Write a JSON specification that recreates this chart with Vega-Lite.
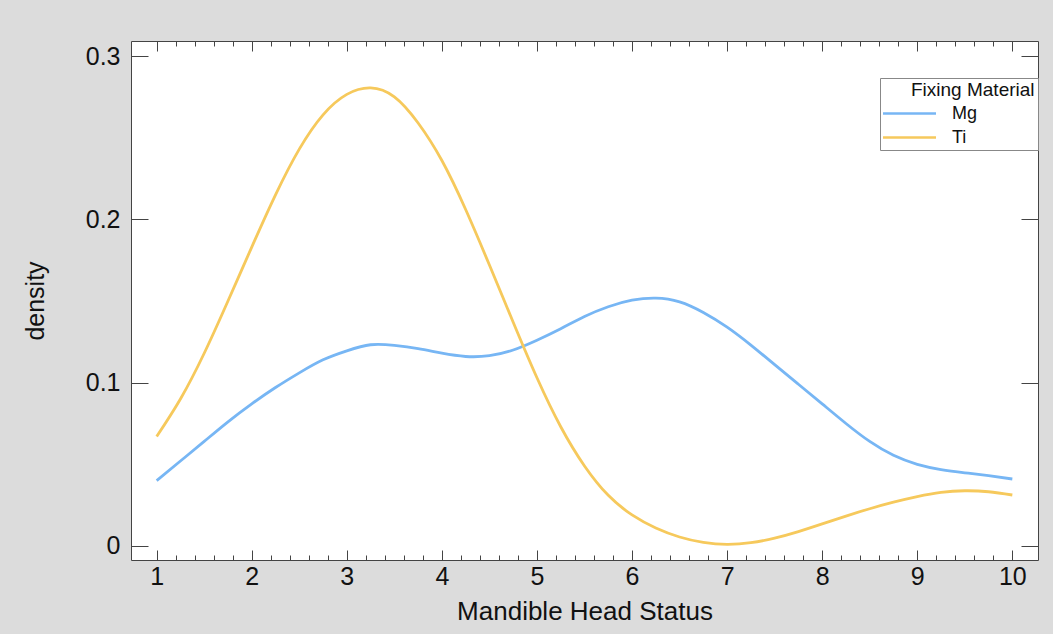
{
  "$schema": "https://vega.github.io/schema/vega-lite/v6.json",
  "width": 907,
  "height": 519,
  "autosize": {"type": "none"},
  "padding": {"left": 131, "top": 41, "right": 15, "bottom": 74},
  "background": "#dcdcdc",
  "config": {
    "font": "Liberation Sans",
    "view": {"stroke": "#444", "strokeWidth": 1, "fill": "white"},
    "axis": {"grid": false, "domain": false, "tickColor": "#444", "tickWidth": 1, "labelColor": "#111", "titleColor": "#111", "titleFontWeight": "normal", "labelFont": "Liberation Sans", "titleFont": "Liberation Sans"}
  },
  "data": {"values": [
    {"x": 1, "density": 0.040, "material": "Mg"},
    {"x": 1.25, "density": 0.052, "material": "Mg"},
    {"x": 1.5, "density": 0.064, "material": "Mg"},
    {"x": 1.75, "density": 0.076, "material": "Mg"},
    {"x": 2, "density": 0.087, "material": "Mg"},
    {"x": 2.25, "density": 0.097, "material": "Mg"},
    {"x": 2.5, "density": 0.106, "material": "Mg"},
    {"x": 2.75, "density": 0.114, "material": "Mg"},
    {"x": 3, "density": 0.1195, "material": "Mg"},
    {"x": 3.25, "density": 0.1232, "material": "Mg"},
    {"x": 3.5, "density": 0.1228, "material": "Mg"},
    {"x": 3.75, "density": 0.1208, "material": "Mg"},
    {"x": 4, "density": 0.1180, "material": "Mg"},
    {"x": 4.25, "density": 0.1160, "material": "Mg"},
    {"x": 4.5, "density": 0.1165, "material": "Mg"},
    {"x": 4.75, "density": 0.1200, "material": "Mg"},
    {"x": 5, "density": 0.126, "material": "Mg"},
    {"x": 5.25, "density": 0.133, "material": "Mg"},
    {"x": 5.5, "density": 0.1405, "material": "Mg"},
    {"x": 5.75, "density": 0.1465, "material": "Mg"},
    {"x": 6, "density": 0.1505, "material": "Mg"},
    {"x": 6.25, "density": 0.1518, "material": "Mg"},
    {"x": 6.5, "density": 0.1495, "material": "Mg"},
    {"x": 6.75, "density": 0.143, "material": "Mg"},
    {"x": 7, "density": 0.134, "material": "Mg"},
    {"x": 7.25, "density": 0.123, "material": "Mg"},
    {"x": 7.5, "density": 0.111, "material": "Mg"},
    {"x": 7.75, "density": 0.099, "material": "Mg"},
    {"x": 8, "density": 0.087, "material": "Mg"},
    {"x": 8.25, "density": 0.075, "material": "Mg"},
    {"x": 8.5, "density": 0.064, "material": "Mg"},
    {"x": 8.75, "density": 0.0555, "material": "Mg"},
    {"x": 9, "density": 0.0500, "material": "Mg"},
    {"x": 9.25, "density": 0.0468, "material": "Mg"},
    {"x": 9.5, "density": 0.0448, "material": "Mg"},
    {"x": 9.75, "density": 0.0430, "material": "Mg"},
    {"x": 10, "density": 0.041, "material": "Mg"},
    {"x": 1, "density": 0.067, "material": "Ti"},
    {"x": 1.25, "density": 0.090, "material": "Ti"},
    {"x": 1.5, "density": 0.118, "material": "Ti"},
    {"x": 1.75, "density": 0.150, "material": "Ti"},
    {"x": 2, "density": 0.183, "material": "Ti"},
    {"x": 2.25, "density": 0.215, "material": "Ti"},
    {"x": 2.5, "density": 0.243, "material": "Ti"},
    {"x": 2.75, "density": 0.264, "material": "Ti"},
    {"x": 3, "density": 0.2765, "material": "Ti"},
    {"x": 3.25, "density": 0.2805, "material": "Ti"},
    {"x": 3.5, "density": 0.2750, "material": "Ti"},
    {"x": 3.75, "density": 0.259, "material": "Ti"},
    {"x": 4, "density": 0.236, "material": "Ti"},
    {"x": 4.25, "density": 0.206, "material": "Ti"},
    {"x": 4.5, "density": 0.172, "material": "Ti"},
    {"x": 4.75, "density": 0.137, "material": "Ti"},
    {"x": 5, "density": 0.103, "material": "Ti"},
    {"x": 5.25, "density": 0.073, "material": "Ti"},
    {"x": 5.5, "density": 0.049, "material": "Ti"},
    {"x": 5.75, "density": 0.031, "material": "Ti"},
    {"x": 6, "density": 0.019, "material": "Ti"},
    {"x": 6.25, "density": 0.011, "material": "Ti"},
    {"x": 6.5, "density": 0.0055, "material": "Ti"},
    {"x": 6.75, "density": 0.0022, "material": "Ti"},
    {"x": 7, "density": 0.0010, "material": "Ti"},
    {"x": 7.25, "density": 0.0020, "material": "Ti"},
    {"x": 7.5, "density": 0.0048, "material": "Ti"},
    {"x": 7.75, "density": 0.0088, "material": "Ti"},
    {"x": 8, "density": 0.0135, "material": "Ti"},
    {"x": 8.25, "density": 0.0183, "material": "Ti"},
    {"x": 8.5, "density": 0.0228, "material": "Ti"},
    {"x": 8.75, "density": 0.0268, "material": "Ti"},
    {"x": 9, "density": 0.0302, "material": "Ti"},
    {"x": 9.25, "density": 0.0328, "material": "Ti"},
    {"x": 9.5, "density": 0.0338, "material": "Ti"},
    {"x": 9.75, "density": 0.0332, "material": "Ti"},
    {"x": 10, "density": 0.0312, "material": "Ti"}
  ]},
  "layer": [
    {
      "mark": {"type": "line", "interpolate": "natural", "strokeWidth": 2.8},
      "encoding": {
        "x": {
          "field": "x", "type": "quantitative",
          "scale": {"domain": [0.73, 10.27], "nice": false, "zero": false},
          "axis": {
            "orient": "bottom",
            "title": "Mandible Head Status",
            "titleFontSize": 26,
            "titlePadding": 4,
            "values": [1,1.2,1.4,1.6,1.8,2,2.2,2.4,2.6,2.8,3,3.2,3.4,3.6,3.8,4,4.2,4.4,4.6,4.8,5,5.2,5.4,5.6,5.8,6,6.2,6.4,6.6,6.8,7,7.2,7.4,7.6,7.8,8,8.2,8.4,8.6,8.8,9,9.2,9.4,9.6,9.8,10],
            "tickSize": {"condition": {"test": "datum.value % 1 === 0", "value": -10}, "value": -5},
            "labelExpr": "datum.value % 1 === 0 ? datum.label : ''",
            "format": "~g",
            "labelFontSize": 25,
            "labelPadding": 14,
            "labelFlush": false,
            "labelOverlap": false
          }
        },
        "y": {
          "field": "density", "type": "quantitative",
          "scale": {"domain": [-0.0086, 0.3092], "nice": false, "zero": false},
          "axis": {
            "orient": "left",
            "title": "density",
            "titleFontSize": 25,
            "titlePadding": 37,
            "values": [0, 0.1, 0.2, 0.3],
            "format": ".1~f",
            "tickSize": -17,
            "labelFontSize": 25,
            "labelPadding": 28,
            "labelFlush": false,
            "labelOverlap": false
          }
        },
        "color": {
          "field": "material", "type": "nominal",
          "scale": {"domain": ["Mg", "Ti"], "range": ["#77b6f4", "#f6c95c"]},
          "legend": {
            "title": "\u2800\u2800Fixing Material",
            "orient": "none",
            "legendX": 749,
            "legendY": 37,
            "fillColor": "white",
            "strokeColor": "#888",
            "padding": 3,
            "titleFontSize": 19,
            "titleFontWeight": "normal",
            "titleColor": "#111",
            "titlePadding": 2,
            "labelFontSize": 18,
            "labelColor": "#111",
            "symbolType": "M-2.65,0H2.65",
            "symbolSize": 400,
            "symbolStrokeWidth": 2.5,
            "symbolOffset": 15,
            "labelOffset": 31,
            "rowPadding": 3
          }
        }
      }
    },
    {
      "mark": {"type": "line", "opacity": 0},
      "encoding": {
        "x": {
          "field": "x", "type": "quantitative",
          "axis": {
            "orient": "top",
            "title": null,
            "labels": false,
            "values": [1,1.2,1.4,1.6,1.8,2,2.2,2.4,2.6,2.8,3,3.2,3.4,3.6,3.8,4,4.2,4.4,4.6,4.8,5,5.2,5.4,5.6,5.8,6,6.2,6.4,6.6,6.8,7,7.2,7.4,7.6,7.8,8,8.2,8.4,8.6,8.8,9,9.2,9.4,9.6,9.8,10],
            "tickSize": {"condition": {"test": "datum.value % 1 === 0", "value": -10}, "value": -5}
          }
        },
        "y": {
          "field": "density", "type": "quantitative",
          "axis": {
            "orient": "right",
            "title": null,
            "labels": false,
            "values": [0, 0.1, 0.2, 0.3],
            "tickSize": -17
          }
        },
        "detail": {"field": "material", "type": "nominal"}
      }
    }
  ],
  "resolve": {"axis": {"x": "independent", "y": "independent"}}
}
